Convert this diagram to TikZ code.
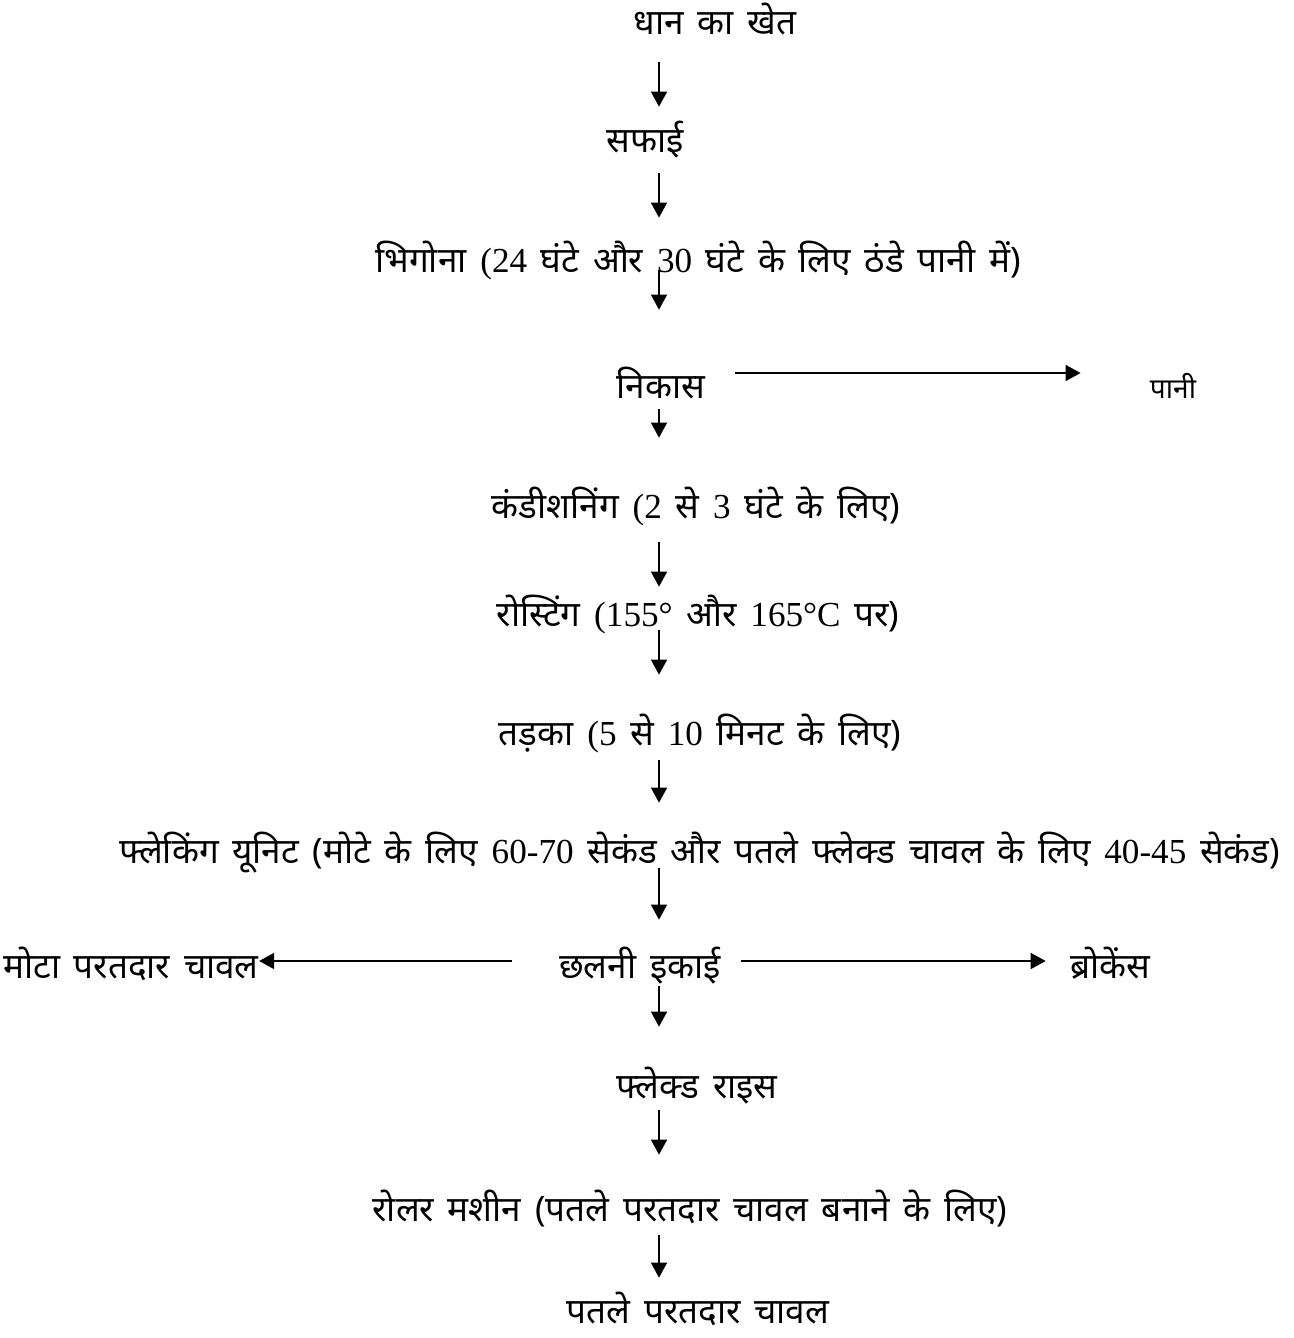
\documentclass[tikz,border=0pt]{standalone}
\usepackage{fontspec}
\setmainfont{Liberation Serif}
\newfontfamily\hindi[Script=Devanagari,WordSpace=1.5]{Noto Sans}
\usetikzlibrary{arrows.meta}
\newcommand{\lat}[1]{{\rmfamily #1}}

\begin{document}
\begin{tikzpicture}[
  x=0.02cm,y=-0.02cm,
  >={Triangle[length=0.3cm,width=0.32cm]},
  stage/.style={inner sep=0pt,text height=0.32cm,text depth=0.12cm,font=\hindi\fontsize{20}{24}\selectfont},
  side/.style={stage,font=\hindi\fontsize{16}{20}\selectfont},
  flow/.style 2 args={->,line width=0.03cm,shorten <=#1,shorten >=#2}
]
  \useasboundingbox (0,0) rectangle (1294,1338);
  \coordinate (spine) at (659,0);

  \node[stage] (khet) at (715,30) {धान का खेत};
  \node[stage] (safai) at (645,148) {सफाई};
  \node[stage] (bhigona) at (698,268) {भिगोना \lat{(24} घंटे और \lat{30} घंटे के लिए ठंडे पानी में)};
  \node[stage] (nikas) at (661,393) {निकास};
  \node[side] (pani) at (1173,393) {पानी};
  \node[stage] (condition) at (696,513) {कंडीशनिंग \lat{(2} से \lat{3} घंटे के लिए)};
  \node[stage] (roast) at (698,621) {रोस्टिंग \lat{(155°} और \lat{165°C} पर)};
  \node[stage] (tadka) at (700,740) {तड़का \lat{(5} से \lat{10} मिनट के लिए)};
  \node[stage] (flaking) at (700,858) {फ्लेकिंग यूनिट (मोटे के लिए \lat{60-70} सेकंड और पतले फ्लेक्ड चावल के लिए \lat{40-45} सेकंड)};
  \node[stage] (chalni) at (640,973) {छलनी इकाई};
  \node[stage] (mota) at (131,973) {मोटा परतदार चावल};
  \node[stage] (broken) at (1110,973) {ब्रोकेंस};
  \node[stage] (flaked) at (697,1093) {फ्लेक्ड राइस};
  \node[stage] (roller) at (690,1216) {रोलर मशीन (पतले परतदार चावल बनाने के लिए)};
  \node[stage] (patle) at (698,1318) {पतले परतदार चावल};

  \draw[flow={0.42cm}{0.6cm}] (khet.south -| spine) -- (safai.north -| spine);
  \draw[flow={0.28cm}{0.78cm}] (safai.south -| spine) -- (bhigona.north -| spine);
  \draw[flow={-0.18cm}{1.44cm}] (bhigona.south -| spine) -- (nikas.north -| spine);
  \draw[flow={0.1cm}{1.28cm}] (nikas.south -| spine) -- (condition.north -| spine);
  \draw[flow={0.36cm}{0.46cm}] (condition.south -| spine) -- (roast.north -| spine);
  \draw[flow={-0.04cm}{1.08cm}] (roast.south -| spine) -- (tadka.north -| spine);
  \draw[flow={0.18cm}{0.88cm}] (tadka.south -| spine) -- (flaking.north -| spine);
  \draw[flow={-0.02cm}{0.84cm}] (flaking.south -| spine) -- (chalni.north -| spine);
  \draw[flow={0.04cm}{1.1cm}] (chalni.south -| spine) -- (flaked.north -| spine);
  \draw[flow={0.12cm}{1.0cm}] (flaked.south -| spine) -- (roller.north -| spine);
  \draw[flow={0.16cm}{0.58cm}] (roller.south -| spine) -- (patle.north -| spine);

  \draw[flow={0.58cm}{1.38cm}] ([yshift=0.4cm]nikas.east) -- ([yshift=0.4cm]pani.west);
  \draw[flow={0.94cm}{0cm}] ([yshift=0.24cm]chalni.west) -- ([yshift=0.24cm]mota.east);
  \draw[flow={0.4cm}{0.48cm}] ([yshift=0.24cm]chalni.east) -- ([yshift=0.24cm]broken.west);
\end{tikzpicture}
\end{document}
